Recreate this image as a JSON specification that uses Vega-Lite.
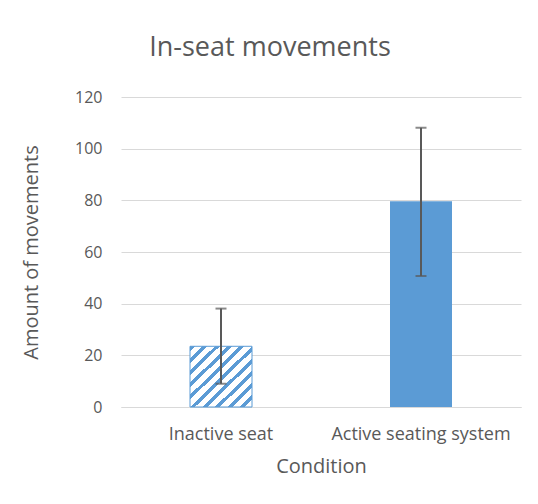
{
  "$schema": "https://vega.github.io/schema/vega-lite/v6.json",
  "autosize": "none",
  "width": 400,
  "height": 310,
  "padding": {"left": 121, "top": 97, "right": 17, "bottom": 97},
  "background": "white",
  "title": {
    "text": "In-seat movements",
    "font": "Open Sans",
    "fontSize": 27,
    "fontWeight": "normal",
    "color": "#595959",
    "anchor": "middle",
    "dx": -51,
    "offset": 27
  },
  "data": {
    "values": [
      {"cond": "Inactive seat", "mean": 23.5, "lo": 9.0, "hi": 38.1},
      {"cond": "Active seating system", "mean": 79.6, "lo": 50.7, "hi": 108.1}
    ]
  },
  "encoding": {
    "x": {
      "field": "cond",
      "type": "nominal",
      "sort": null,
      "scale": {"paddingInner": 0, "paddingOuter": 0},
      "axis": {
        "title": "Condition",
        "labelAngle": 0,
        "labelPadding": 18,
        "labelFontSize": 18,
        "titleFontSize": 20,
        "titlePadding": 13
      }
    }
  },
  "layer": [
    {
      "transform": [{"filter": "datum.cond == 'Inactive seat'"}],
      "mark": {
        "type": "bar",
        "size": 62,
        "stroke": "#5B9BD5",
        "strokeWidth": 1,
        "fill": {
          "gradient": "linear",
          "x1": 0, "y1": 0, "x2": 1, "y2": 1,
          "stops": [
            {"offset": 0.00, "color": "#5B9BD5"}, {"offset": 0.04, "color": "#5B9BD5"}, {"offset": 0.04, "color": "#ffffff"}, {"offset": 0.10, "color": "#ffffff"},
            {"offset": 0.10, "color": "#5B9BD5"}, {"offset": 0.14, "color": "#5B9BD5"}, {"offset": 0.14, "color": "#ffffff"}, {"offset": 0.20, "color": "#ffffff"},
            {"offset": 0.20, "color": "#5B9BD5"}, {"offset": 0.24, "color": "#5B9BD5"}, {"offset": 0.24, "color": "#ffffff"}, {"offset": 0.30, "color": "#ffffff"},
            {"offset": 0.30, "color": "#5B9BD5"}, {"offset": 0.34, "color": "#5B9BD5"}, {"offset": 0.34, "color": "#ffffff"}, {"offset": 0.40, "color": "#ffffff"},
            {"offset": 0.40, "color": "#5B9BD5"}, {"offset": 0.44, "color": "#5B9BD5"}, {"offset": 0.44, "color": "#ffffff"}, {"offset": 0.50, "color": "#ffffff"},
            {"offset": 0.50, "color": "#5B9BD5"}, {"offset": 0.54, "color": "#5B9BD5"}, {"offset": 0.54, "color": "#ffffff"}, {"offset": 0.60, "color": "#ffffff"},
            {"offset": 0.60, "color": "#5B9BD5"}, {"offset": 0.64, "color": "#5B9BD5"}, {"offset": 0.64, "color": "#ffffff"}, {"offset": 0.70, "color": "#ffffff"},
            {"offset": 0.70, "color": "#5B9BD5"}, {"offset": 0.74, "color": "#5B9BD5"}, {"offset": 0.74, "color": "#ffffff"}, {"offset": 0.80, "color": "#ffffff"},
            {"offset": 0.80, "color": "#5B9BD5"}, {"offset": 0.84, "color": "#5B9BD5"}, {"offset": 0.84, "color": "#ffffff"}, {"offset": 0.90, "color": "#ffffff"},
            {"offset": 0.90, "color": "#5B9BD5"}, {"offset": 0.94, "color": "#5B9BD5"}, {"offset": 0.94, "color": "#ffffff"}, {"offset": 1.00, "color": "#ffffff"}
          ]
        }
      },
      "encoding": {
        "y": {
          "field": "mean",
          "type": "quantitative",
          "scale": {"domain": [0, 120], "nice": false},
          "axis": {
            "title": "Amount of movements",
            "values": [0, 20, 40, 60, 80, 100, 120],
            "titleFontSize": 20,
            "titlePadding": 33
          }
        }
      }
    },
    {
      "transform": [{"filter": "datum.cond != 'Inactive seat'"}],
      "mark": {"type": "bar", "size": 62, "color": "#5B9BD5"},
      "encoding": {
        "y": {"field": "mean", "type": "quantitative"}
      }
    },
    {
      "mark": {"type": "rule", "color": "#595959", "strokeWidth": 2},
      "encoding": {
        "y": {"field": "lo", "type": "quantitative"},
        "y2": {"field": "hi"}
      }
    },
    {
      "mark": {"type": "tick", "color": "#595959", "thickness": 2, "size": 11},
      "encoding": {
        "y": {"field": "lo", "type": "quantitative"}
      }
    },
    {
      "mark": {"type": "tick", "color": "#595959", "thickness": 2, "size": 11},
      "encoding": {
        "y": {"field": "hi", "type": "quantitative"}
      }
    }
  ],
  "config": {
    "font": "Open Sans",
    "view": {"stroke": null},
    "axis": {
      "labelFont": "Open Sans",
      "titleFont": "Open Sans",
      "labelColor": "#595959",
      "titleColor": "#595959",
      "labelFontSize": 16,
      "titleFontSize": 18,
      "titleFontWeight": "normal",
      "ticks": false,
      "tickSize": 0,
      "gridColor": "#D9D9D9",
      "gridWidth": 1,
      "domainColor": "#D9D9D9"
    },
    "axisY": {"domain": false, "labelPadding": 19},
    "axisX": {"grid": false, "domain": true}
  }
}
